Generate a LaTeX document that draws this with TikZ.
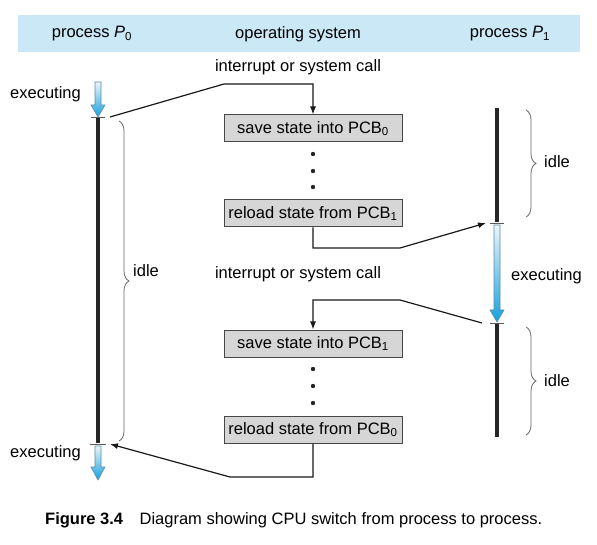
\documentclass[tikz,border=0pt]{standalone}
\usepackage{fontspec}
\setmainfont{Liberation Sans}
\usetikzlibrary{positioning, arrows.meta, decorations.pathreplacing}
\definecolor{bandblue}{RGB}{203,232,247}
\definecolor{arrowtop}{RGB}{236,245,250}
\definecolor{arrowblue}{RGB}{22,160,220}
\definecolor{arrowedge}{RGB}{90,140,170}
\definecolor{boxfill}{RGB}{214,214,214}
\definecolor{boxedge}{RGB}{70,70,70}
\tikzset{
    txt/.style={
        inner sep=0,
        font=\fontsize{16.5}{19}\selectfont
    },
    osbox/.style={
        rectangle,
        draw=boxedge, % 边框颜色
        fill=boxfill, % 灰色填充
        line width=1pt,
        minimum width=178pt,
        minimum height=27pt,
        inner sep=0,
        font=\fontsize{16.5}{19}\selectfont
    },
    link/.style={
        draw=black!90,
        line width=1.2pt
    },
    linkarrow/.style={
        link,
        -{Latex[length=8pt,width=6pt]}
    },
    proc/.style={
        draw=black!85,
        line width=4pt
    },
    tick/.style={
        draw=black!65,
        line width=0.8pt
    },
    execarrow/.style={
        top color=arrowtop,
        bottom color=arrowblue,
        draw=arrowedge,
        line width=0.6pt
    },
    idlebrace/.style={
        draw=black!60,
        line width=0.8pt,
        decorate,
        decoration={brace, amplitude=10pt}
    }
}
\begin{document}
\begin{tikzpicture}[x=1pt, y=-1pt]
    \useasboundingbox (0,0) rectangle (597,545);
    % 标题栏
    \fill[bandblue] (18,15) rectangle (580,52);
    \node[txt] (hp0) at (92,34) {process \textit{P}\textsubscript{0}};
    \node[txt] (hos) at (298,34) {operating system};
    \node[txt] (hp1) at (510,34) {process \textit{P}\textsubscript{1}};

    % 操作系统中的框
    \node[txt] (int1) at (298,67) {interrupt or system call};
    \node[osbox] (save0) at (313,128.5) {save state into PCB\textsubscript{0}};
    \node[osbox] (reload1) at (313,213.5) {reload state from PCB\textsubscript{1}};
    \node[txt] (int2) at (298,274) {interrupt or system call};
    \node[osbox] (save1) at (313,343.5) {save state into PCB\textsubscript{1}};
    \node[osbox] (reload0) at (313,429.5) {reload state from PCB\textsubscript{0}};
    \foreach \y in {154,171,187,369,386,403}
        \fill[black!85] (313,\y) circle (2.2pt);

    % 进程 P0
    \path[execarrow] (95,82) -- (101,82) -- (101,105) -- (105,105) -- (98,117)
        -- (91,105) -- (95,105) -- cycle;
    \path[execarrow] (95,446) -- (101,446) -- (101,467) -- (105,467) -- (98,480)
        -- (91,467) -- (95,467) -- cycle;
    \draw[proc] (98,118) -- (98,443);
    \draw[tick] (91,117) -- (105,117);
    \draw[tick] (90,444) -- (106,444);
    \node[txt, anchor=east] (ex0a) at (81,94) {executing};
    \node[txt, anchor=east] (ex0b) at (81,453) {executing};
    \draw[idlebrace] (119,121) -- (119,441);
    \node[txt, anchor=west] (idle0) at (133,271) {idle};

    % 进程 P1
    \path[execarrow] (494,225) -- (500,225) -- (500,310) -- (504,310) -- (497,322)
        -- (490,310) -- (494,310) -- cycle;
    \draw[proc] (497,108) -- (497,222);
    \draw[proc] (497,324) -- (497,437);
    \draw[tick] (490,223) -- (504,223);
    \draw[tick] (490,323) -- (504,323);
    \node[txt, anchor=west] (ex1) at (511,276) {executing};
    \draw[idlebrace] (526,110) -- (526,217);
    \draw[idlebrace] (526,327) -- (526,435);
    \node[txt, anchor=west] (idle1a) at (544,162) {idle};
    \node[txt, anchor=west] (idle1b) at (544,381) {idle};

    % 连接线
    \coordinate (t0a) at (110,117);
    \coordinate (c1) at (224,84);
    \coordinate (c2) at (400,248);
    \coordinate (t1a) at (486,223);
    \coordinate (t1b) at (482,323);
    \coordinate (c3) at (400,300);
    \coordinate (c4) at (230,477);
    \coordinate (t0b) at (110,444);
    \draw[linkarrow] (t0a) -- (c1) -| (save0.north);
    \draw[linkarrow] (reload1.south) |- (c2) -- (t1a);
    \draw[linkarrow] (t1b) -- (c3) -| (save1.north);
    \draw[linkarrow] (reload0.south) |- (c4) -- (t0b);

    % 图注
    \node[txt, anchor=west] (cap) at (45,520)
        {\textbf{Figure 3.4}\quad Diagram showing CPU switch from process to process.};
\end{tikzpicture}
\end{document}
